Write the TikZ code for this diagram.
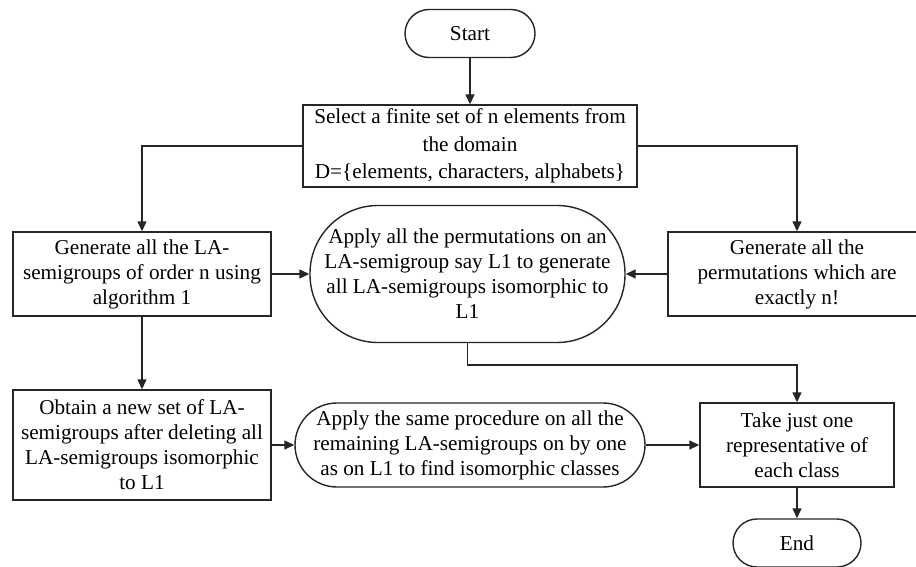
\documentclass[tikz,border=0pt]{standalone}
\usepackage{fontspec}
\setmainfont{Liberation Serif}
\usetikzlibrary{arrows.meta}
\begin{document}
\begin{tikzpicture}[x=0.5pt,y=-0.5pt,
  every node/.style={font=\fontsize{10.6pt}{12.5pt}\selectfont, align=center, inner sep=0pt},
  box/.style={draw=black!85, line width=0.7pt, fill=white},
  term/.style={draw=black!85, line width=0.7pt, fill=white, rounded corners=12pt},
  arr/.style={draw=black!85, line width=0.7pt, -{Triangle[length=5pt,width=4.5pt]}}]
\useasboundingbox (0,0) rectangle (916,567);
\fill[white] (0,0) rectangle (916,567);

\node[term, minimum width=65pt, minimum height=24pt] (start) at (470,33.5) {Start};
\node[box, minimum width=167pt, minimum height=41pt, font=\fontsize{10.6pt}{13.8pt}\selectfont] (select) at (470,146)
  {Select a finite set of n elements from\\the domain\\D=\{elements, characters, alphabets\}};
\node[box, minimum width=129pt, minimum height=42pt] (genla) at (142,274)
  {Generate all the LA-\\semigroups of order n using\\algorithm 1};
\node[box, minimum width=129pt, minimum height=42pt] (perm) at (797,274)
  {Generate all the\\permutations which are\\exactly n!};
\node[box, rounded corners=34pt, minimum width=157.5pt, minimum height=68.5pt] (apply1) at (467.5,274)
  {Apply all the permutations on an\\LA-semigroup say L1 to generate\\all LA-semigroups isomorphic to\\L1};
\node[box, minimum width=129pt, minimum height=55pt] (obtain) at (142,445)
  {Obtain a new set of LA-\\semigroups after deleting all\\LA-semigroups isomorphic\\to L1};
\node[box, rounded corners=21pt, minimum width=175pt, minimum height=42pt] (apply2) at (470,445)
  {Apply the same procedure on all the\\remaining LA-semigroups on by one\\as on L1 to find isomorphic classes};
\node[box, minimum width=97pt, minimum height=42pt] (take) at (797,445)
  {Take just one\\representative of\\each class};
\node[term, minimum width=64pt, minimum height=24pt] (end) at (797,543) {End};

\coordinate (k) at (797,365);

\draw[arr] (start.south) -- (select.north);
\draw[arr] (select.west) -| (genla.north);
\draw[arr] (select.east) -| (perm.north);
\draw[arr] (genla.east) -- (apply1.west);
\draw[arr] (perm.west) -- (apply1.east);
\draw[arr] (genla.south) -- (obtain.north);
\draw[arr] (obtain.east) -- (apply2.west);
\draw[arr] (apply2.east) -- (take.west);
\draw[arr] (apply1.south) |- (k) -- (take.north);
\draw[arr] (take.south) -- (end.north);
\end{tikzpicture}
\end{document}
